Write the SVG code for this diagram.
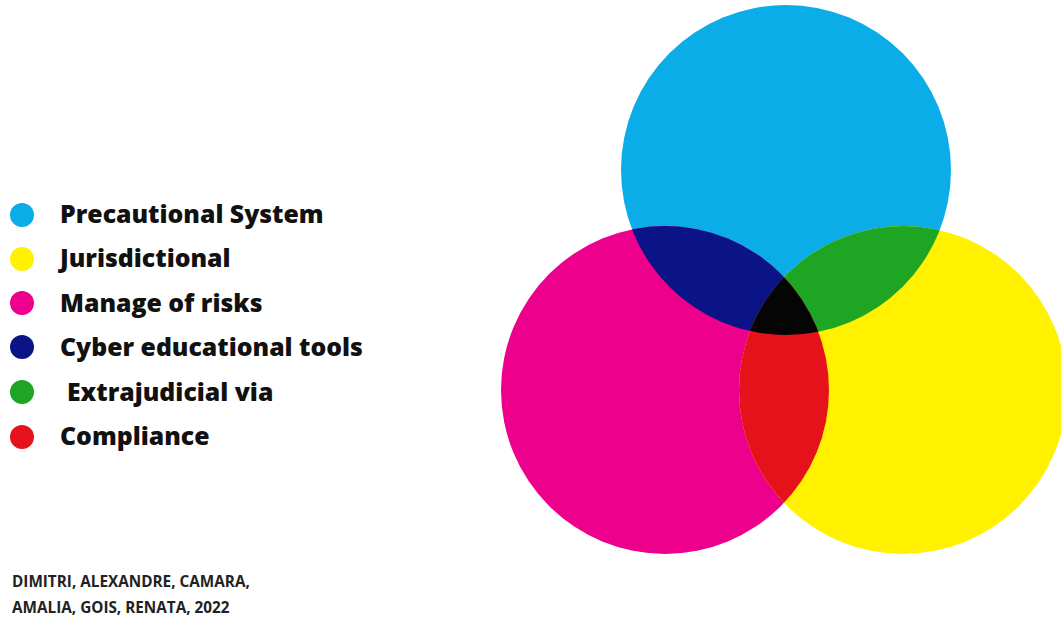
<svg xmlns="http://www.w3.org/2000/svg" width="1061" height="620" viewBox="0 0 1061 620">
  <style>
    .lbl { font-family: "Open Sans", "Liberation Sans", sans-serif; font-weight: 800; font-size: 24.8px; fill: #111; }
    .cite { font-family: "Open Sans", "Liberation Sans", sans-serif; font-weight: 700; font-size: 15.3px; fill: #222; }
  </style>
  <defs>
    <clipPath id="clipC"><circle cx="786" cy="170" r="165"/></clipPath>
    <clipPath id="clipM"><circle cx="665" cy="390" r="164"/></clipPath>
    <clipPath id="clipY"><circle cx="903" cy="390" r="164"/></clipPath>
  </defs>
  <rect width="1061" height="620" fill="#ffffff"/>

  <g id="legend">
    <g id="legend-precautional"><circle cx="22" cy="215" r="12" fill="#0AADE8"/><text class="lbl" x="60" y="223">Precautional System</text></g>
    <g id="legend-jurisdictional"><circle cx="22" cy="259" r="12" fill="#FFF100"/><text class="lbl" x="60" y="267">Jurisdictional</text></g>
    <g id="legend-risks"><circle cx="22" cy="303" r="12" fill="#EC008C"/><text class="lbl" x="60" y="312">Manage of risks</text></g>
    <g id="legend-cyber"><circle cx="22" cy="347" r="12" fill="#0B1486"/><text class="lbl" x="60" y="356">Cyber educational tools</text></g>
    <g id="legend-extrajudicial"><circle cx="22" cy="392" r="12" fill="#1FA524"/><text class="lbl" x="67" y="401">Extrajudicial via</text></g>
    <g id="legend-compliance"><circle cx="22" cy="437" r="12" fill="#E5121B"/><text class="lbl" x="60" y="445">Compliance</text></g>
  </g>

  <g id="venn">
    <circle id="circle-cyan" cx="786" cy="170" r="165" fill="#0AADE8"/>
    <circle id="circle-magenta" cx="665" cy="390" r="164" fill="#EC008C"/>
    <circle id="circle-yellow" cx="903" cy="390" r="164" fill="#FFF100"/>
    <circle id="overlap-cyan-magenta" cx="665" cy="390" r="164" fill="#0B1486" clip-path="url(#clipC)"/>
    <circle id="overlap-cyan-yellow" cx="903" cy="390" r="164" fill="#1FA524" clip-path="url(#clipC)"/>
    <circle id="overlap-magenta-yellow" cx="903" cy="390" r="164" fill="#E5121B" clip-path="url(#clipM)"/>
    <g id="overlap-all" clip-path="url(#clipC)">
      <circle cx="903" cy="390" r="164" fill="#050505" clip-path="url(#clipM)"/>
    </g>
  </g>

  <g id="citation">
    <text class="cite" x="12" y="587">DIMITRI, ALEXANDRE, CAMARA,</text>
    <text class="cite" x="12" y="613">AMALIA, GOIS, RENATA, 2022</text>
  </g>
</svg>
